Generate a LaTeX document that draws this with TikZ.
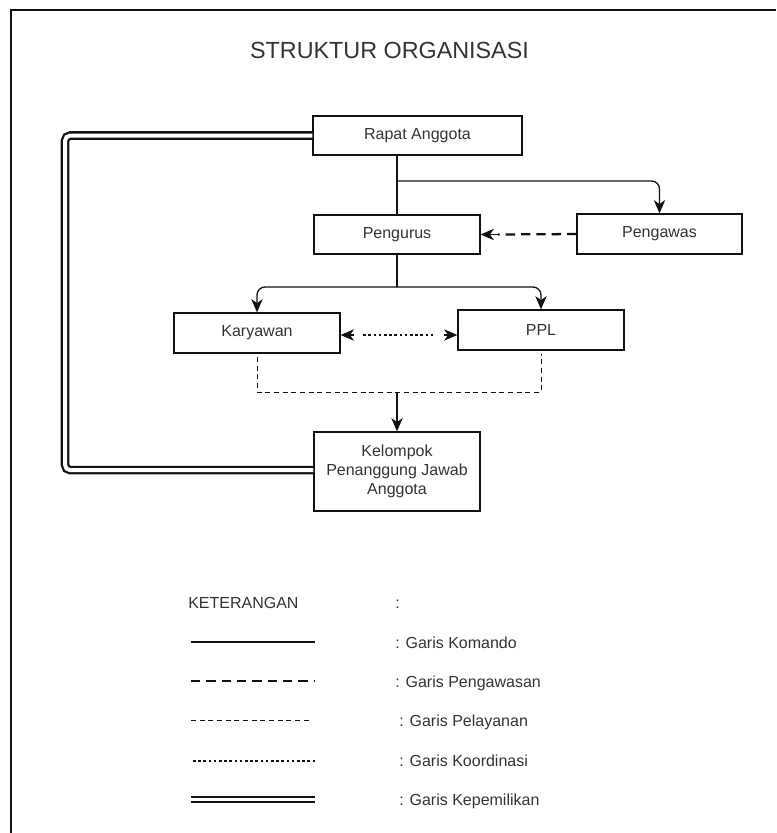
\documentclass[tikz,border=0pt]{standalone}
\usepackage{fontspec}
\setmainfont{Liberation Sans}
\usetikzlibrary{arrows.meta}
\definecolor{txt}{HTML}{333333}
\definecolor{ln}{HTML}{111111}
\tikzset{
  box/.style={draw=ln, line width=0.9pt, rectangle, inner sep=0pt, text=txt,
    font=\fontsize{12}{14.25}\selectfont, align=center},
  tip/.style={-{Stealth[length=10pt,width=8.5pt,inset=3pt]}},
  komando/.style={draw=ln, line width=1pt},
  pengawasan/.style={draw=ln, line width=1.7pt, dash pattern=on 7pt off 4.5pt},
  pelayanan/.style={draw=ln, line width=0.75pt, dash pattern=on 3.8pt off 2.7pt},
  koordinasi/.style={draw=ln, line width=1.9pt, dash pattern=on 1.9pt off 2pt},
  kepemilikan/.style={draw=ln, line width=1.7pt, double=white, double distance=3pt},
  lbl/.style={anchor=base west, inner sep=0pt, text=txt, font=\fontsize{12}{14}\selectfont},
}
\begin{document}
\begin{tikzpicture}[x=0.75pt,y=-0.75pt]
\useasboundingbox (0,0) rectangle (776,833);
% frame
\coordinate (f1) at (11,833);
\coordinate (f2) at (11,10);
\coordinate (f3) at (776,10);
\draw[ln, line width=1.1pt] (f1) -- (f2) -- (f3);
% title
\node[anchor=base, inner sep=0pt, text=txt, font=\fontsize{17.5}{20}\selectfont] (title) at (389.5,58.3) {STRUKTUR ORGANISASI};
% boxes
\node[box, minimum width=156.75pt, minimum height=29.25pt] (rapat) at (417.5,135.5) {Rapat Anggota};
\node[box, minimum width=124.5pt, minimum height=29.25pt] (pengurus) at (397,234.5) {Pengurus};
\node[box, minimum width=123.75pt, minimum height=30pt] (pengawas) at (659.5,234) {Pengawas};
\node[box, minimum width=124.5pt, minimum height=30pt] (karyawan) at (257,333) {Karyawan};
\node[box, minimum width=124.5pt, minimum height=30pt] (ppl) at (541,330) {PPL};
\node[box, minimum width=124.5pt, minimum height=59.25pt] (kelompok) at (397,471.5) {Kelompok\\Penanggung Jawab\\Anggota};
% junctions
\coordinate (j1) at (397,181);
\coordinate (j2) at (397,287);
\coordinate (j3) at (397,392);
\coordinate (kl) at (65,300);
% komando
\draw[komando] (pengurus.north) -- (pengurus.north |- rapat.south);
\draw[komando, tip, rounded corners=6pt] (j1) -| (pengawas.north);
\draw[komando] (pengurus.south) -- (j2);
\draw[komando, tip, rounded corners=6pt] (j2) -| (karyawan.north);
\draw[komando, tip, rounded corners=6pt] (j2) -| (ppl.north);
% pengawasan
\draw[pengawasan] (pengawas.west) -- ([xshift=13pt]pengurus.east);
\draw[komando, tip] ([xshift=13pt]pengurus.east) -- (pengurus.east);
% koordinasi
\draw[koordinasi] ([xshift=17pt,yshift=-1.5pt]karyawan.east) -- ([xshift=-17pt,yshift=-1.5pt]karyawan.east -| ppl.west);
\draw[komando, tip] ([xshift=10pt,yshift=-1.5pt]karyawan.east) -- ([yshift=-1.5pt]karyawan.east);
\draw[komando, tip] ([xshift=-10pt,yshift=-1.5pt]karyawan.east -| ppl.west) -- ([yshift=-1.5pt]karyawan.east -| ppl.west);
% pelayanan
\draw[pelayanan] ([yshift=-2.5pt]karyawan.south) |- (ppl.south |- j3) -- ([yshift=-2.5pt]ppl.south);
\draw[komando, tip] (j3) -- (kelompok.north);
% kepemilikan
\draw[kepemilikan, rounded corners=4pt] (rapat.west) -| (kl) |- ([yshift=1pt]kelompok.west);
% legend
\node[lbl] (ket) at (188,608.5) {KETERANGAN};
\node[lbl] (ketc) at (395,608.5) {:};
\coordinate (l1a) at (191,642); \coordinate (l1b) at (315,642);
\coordinate (l2a) at (191,681); \coordinate (l2b) at (315,681);
\coordinate (l3a) at (191,720); \coordinate (l3b) at (312,720);
\coordinate (l4a) at (193,761); \coordinate (l4b) at (317,761);
\coordinate (l5a) at (191,799.5); \coordinate (l5b) at (315,799.5);
\draw[komando] (l1a) -- (l1b);
\draw[pengawasan] (l2a) -- (l2b);
\draw[pelayanan] (l3a) -- (l3b);
\draw[koordinasi] (l4a) -- (l4b);
\draw[kepemilikan, double distance=2.2pt] (l5a) -- (l5b);
\node[lbl] (t1) at (395,648) {: Garis Komando};
\node[lbl] (t2) at (395,687) {: Garis Pengawasan};
\node[lbl] (t3) at (399,726) {: Garis Pelayanan};
\node[lbl] (t4) at (399,766) {: Garis Koordinasi};
\node[lbl] (t5) at (399,805) {: Garis Kepemilikan};
\end{tikzpicture}
\end{document}
